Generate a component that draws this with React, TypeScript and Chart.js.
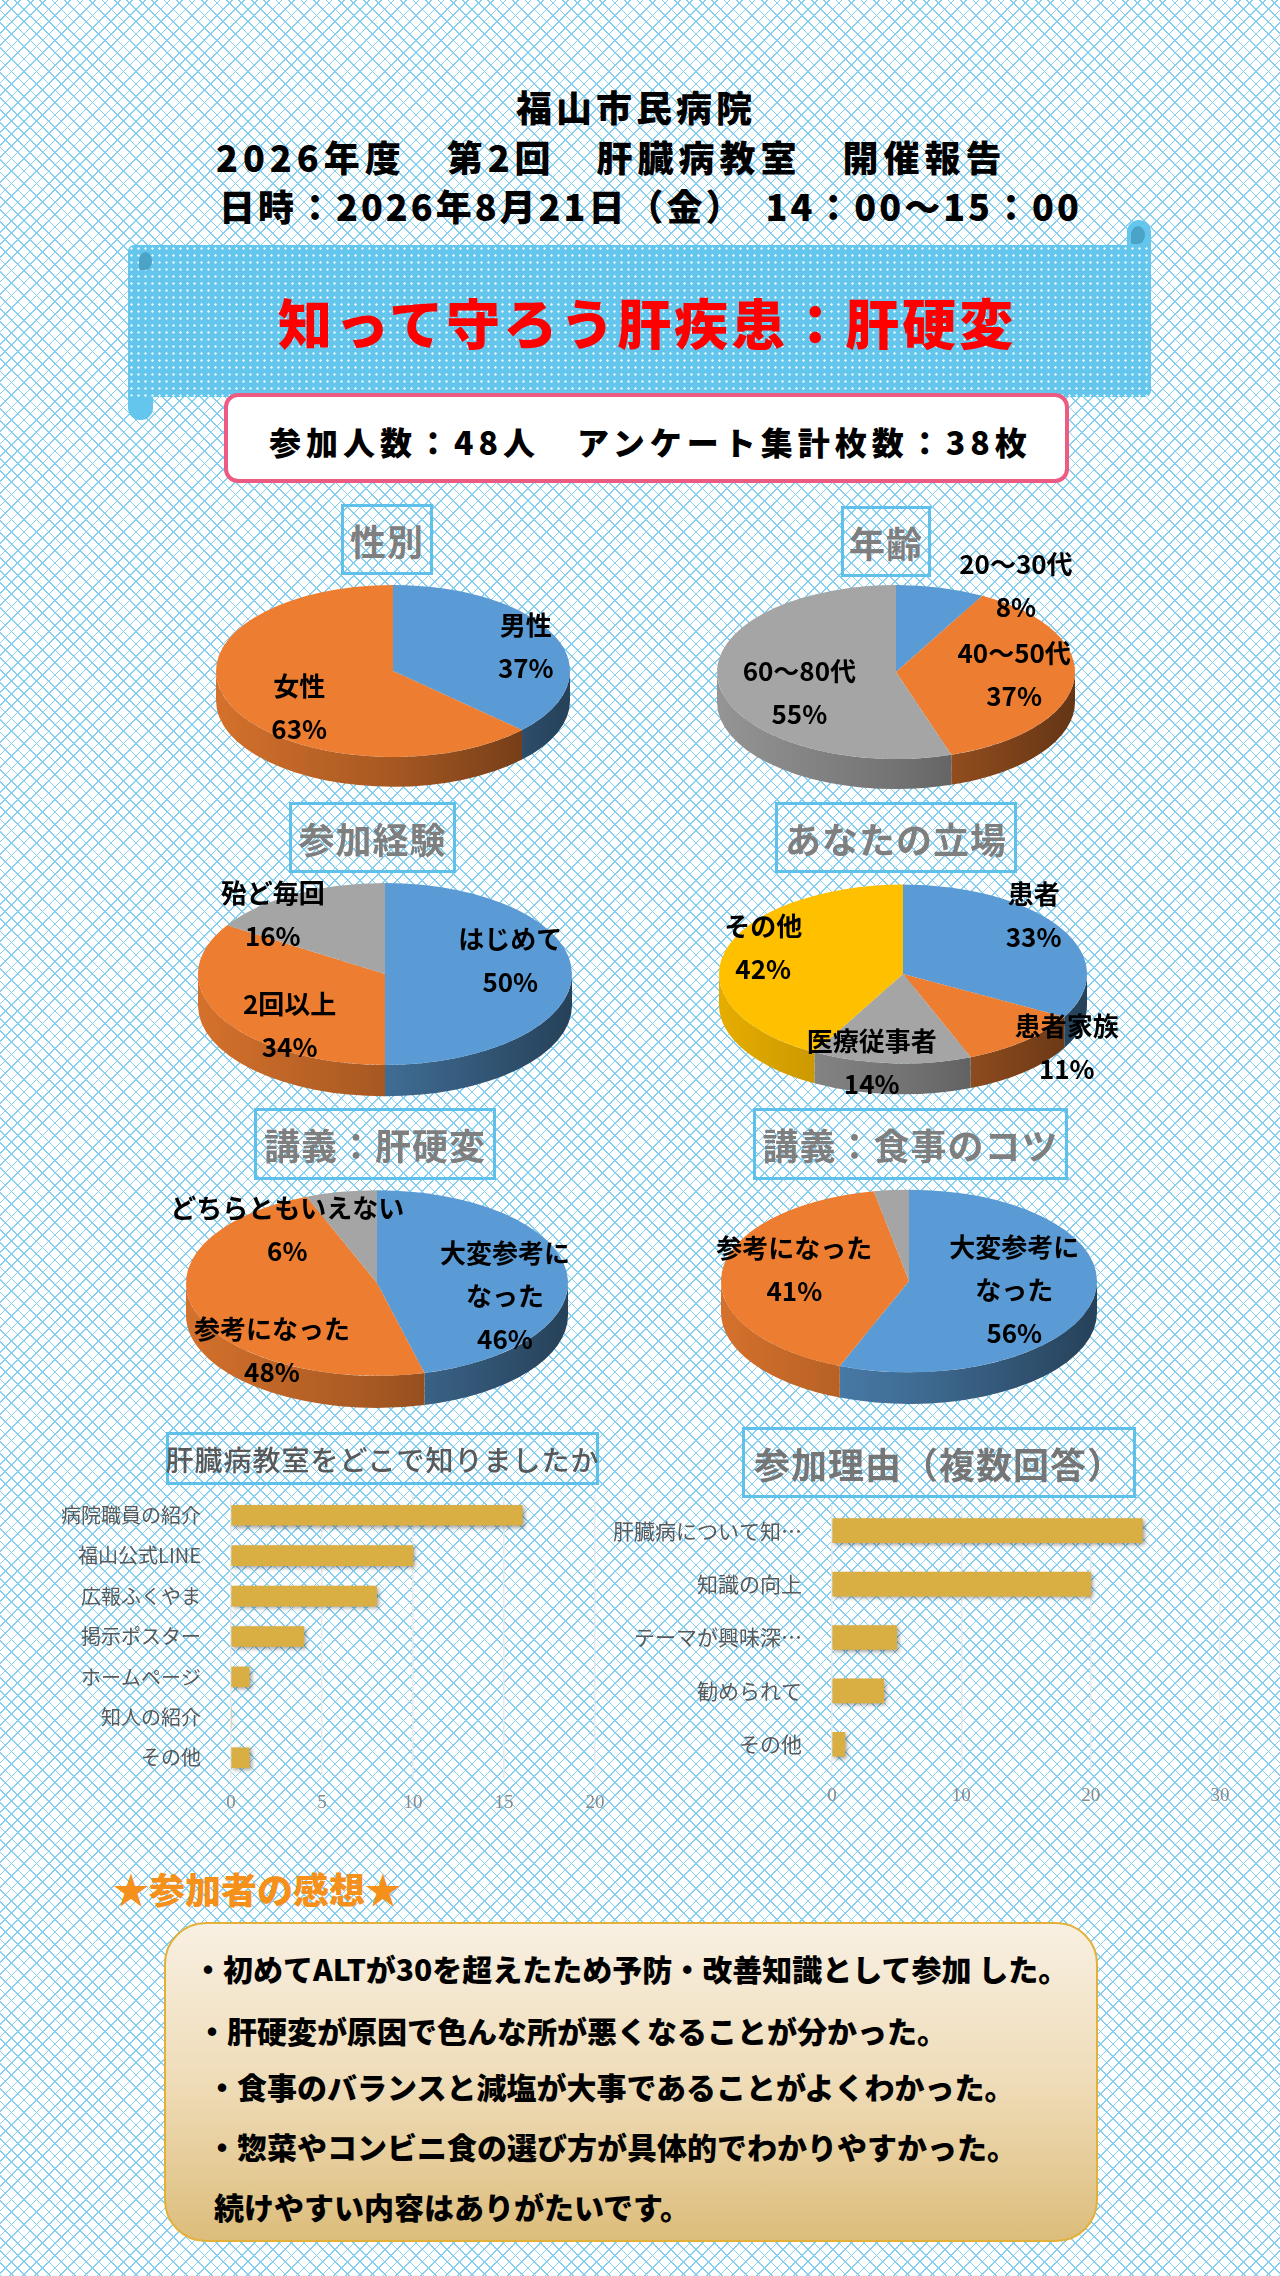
import React, { useEffect, useRef } from "react";
import Chart from "chart.js/auto";

Chart.defaults.font.family = "'Noto Sans CJK JP', 'Noto Sans', sans-serif";

// ---- data ----
const genderLabels = ["男性", "女性"];
const genderValues = [37, 63];

const ageLabels = ["20〜30代", "40〜50代", "60〜80代"];
const ageValues = [8, 37, 55];

const visitLabels = ["はじめて", "2回以上", "殆ど毎回"];
const visitValues = [50, 34, 16];

const roleLabels = ["患者", "患者家族", "医療従事者", "その他"];
const roleValues = [33, 11, 14, 42];

const lectureLabels = ["大変参考に\nなった", "参考になった", "どちらともいえない"];
const lecture1Values = [46, 48, 6];
const lecture2Values = [56, 41, 3];

const sourceLabels = ["病院職員の紹介", "福山公式LINE", "広報ふくやま", "掲示ポスター", "ホームページ", "知人の紹介", "その他"];
const sourceValues = [16, 10, 8, 4, 1, 0, 1];
const sourceTicks = [0, 5, 10, 15, 20];

const reasonLabels = ["肝臓病について知…", "知識の向上", "テーマが興味深…", "勧められて", "その他"];
const reasonValues = [24, 20, 5, 4, 1];
const reasonTicks = [0, 10, 20, 30];

// ---- styles ----
const BLUE = "#5b9bd5";
const ORANGE = "#ed7d31";
const GRAY = "#a5a5a5";
const YELLOW = "#ffc000";
const BAR = "#d9ae42";
const JP = "'Noto Sans CJK JP', sans-serif";

function shade(hex: string, f: number) {
  const n = parseInt(hex.slice(1), 16);
  const r = Math.round(((n >> 16) & 255) * f);
  const g = Math.round(((n >> 8) & 255) * f);
  const b = Math.round((n & 255) * f);
  return `rgb(${r},${g},${b})`;
}

// fake 3D: squash the pie and draw the side wall underneath
const pie3d = {
  id: "pie3d",
  beforeDatasetsDraw(chart: any, _args: any, opts: any) {
    const arcs = chart.getDatasetMeta(0).data;
    const { x, y, outerRadius } = arcs[0].getProps(["x", "y", "outerRadius"], true);
    const ry = outerRadius * opts.tilt;
    const depth = outerRadius * opts.depth;
    const ctx = chart.ctx;
    const colors = chart.data.datasets[0].backgroundColor;
    arcs.forEach((arc: any, i: number) => {
      const { startAngle, endAngle } = arc.getProps(["startAngle", "endAngle"], true);
      const s = Math.max(startAngle, 0);
      const e = Math.min(endAngle, Math.PI);
      if (e <= s) return;
      const g = ctx.createLinearGradient(x - outerRadius, 0, x + outerRadius, 0);
      g.addColorStop(0, shade(colors[i], 0.9));
      g.addColorStop(0.5, shade(colors[i], 0.7));
      g.addColorStop(1, shade(colors[i], 0.42));
      ctx.beginPath();
      ctx.ellipse(x, y, outerRadius, ry, 0, s, e, false);
      ctx.ellipse(x, y + depth, outerRadius, ry, 0, e, s, true);
      ctx.closePath();
      ctx.fillStyle = g;
      ctx.fill();
    });
    ctx.save();
    ctx.translate(x, y);
    ctx.scale(1, opts.tilt);
    ctx.translate(-x, -y);
  },
  afterDatasetsDraw(chart: any, _args: any, opts: any) {
    const ctx = chart.ctx;
    ctx.restore();
    const arcs = chart.getDatasetMeta(0).data;
    const { x, y, outerRadius } = arcs[0].getProps(["x", "y", "outerRadius"], true);
    const ry = outerRadius * opts.tilt;
    const names = chart.data.labels;
    const vals = chart.data.datasets[0].data;
    ctx.save();
    ctx.fillStyle = "#000";
    ctx.font = `bold 26px ${JP}`;
    ctx.textAlign = "center";
    ctx.textBaseline = "middle";
    opts.labelAt.forEach((p: number[] | null, i: number) => {
      if (!p) return;
      const lines = [...String(names[i]).split("\n"), `${vals[i]}%`];
      const lx = x + p[0] * outerRadius;
      const ly = y + p[1] * ry;
      lines.forEach((t, j) => ctx.fillText(t, lx, ly + (j - (lines.length - 1) / 2) * 43));
    });
    ctx.restore();
  },
};

const barShadow = {
  id: "barShadow",
  beforeDatasetsDraw(chart: any) {
    const c = chart.ctx;
    c.save();
    c.shadowColor = "rgba(0,0,0,0.35)";
    c.shadowBlur = 4;
    c.shadowOffsetX = 2;
    c.shadowOffsetY = 2;
  },
  afterDatasetsDraw(chart: any) {
    chart.ctx.restore();
  },
};

const PIE_W = 540;
const PIE_H = 330;
const PIE_CY = 145;

function Pie3D({
  labels,
  values,
  colors,
  labelAt,
  cx,
  cy,
  r,
}: {
  labels: string[];
  values: number[];
  colors: string[];
  labelAt: (number[] | null)[];
  cx: number;
  cy: number;
  r: number;
}) {
  const canvasRef = useRef<HTMLCanvasElement | null>(null);

  useEffect(() => {
    if (!canvasRef.current) return;
    const chart = new Chart(canvasRef.current, {
      type: "pie",
      data: {
        labels,
        datasets: [{ data: values, backgroundColor: colors, borderWidth: 0, radius: r, clip: false } as any],
      },
      options: {
        responsive: false,
        animation: false,
        events: [],
        layout: { padding: { bottom: PIE_H - 2 * PIE_CY } },
        plugins: {
          legend: { display: false },
          tooltip: { enabled: false },
          pie3d: { tilt: 0.486, depth: 0.168, labelAt },
        } as any,
      },
      plugins: [pie3d],
    });
    return () => chart.destroy();
  }, []);

  return (
    <canvas
      ref={canvasRef}
      width={PIE_W}
      height={PIE_H}
      style={{ position: "absolute", left: cx - PIE_W / 2, top: cy - PIE_CY, width: PIE_W, height: PIE_H }}
    />
  );
}

function HBar({
  labels,
  values,
  ticks,
  left,
  top,
  width,
  height,
  axisW,
  padTop,
  padRight,
  axisH,
  barH,
  labelSize,
}: {
  labels: string[];
  values: number[];
  ticks: number[];
  left: number;
  top: number;
  width: number;
  height: number;
  axisW: number;
  padTop: number;
  padRight: number;
  axisH: number;
  barH: number;
  labelSize: number;
}) {
  const canvasRef = useRef<HTMLCanvasElement | null>(null);

  useEffect(() => {
    if (!canvasRef.current) return;
    const chart = new Chart(canvasRef.current, {
      type: "bar",
      data: {
        labels,
        datasets: [{ data: values, backgroundColor: BAR, borderWidth: 0, barThickness: barH }],
      },
      options: {
        indexAxis: "y",
        responsive: false,
        animation: false,
        events: [],
        layout: { autoPadding: false, padding: { top: padTop, right: padRight, left: 0, bottom: 0 } },
        plugins: { legend: { display: false }, tooltip: { enabled: false } },
        scales: {
          x: {
            min: ticks[0],
            max: ticks[ticks.length - 1],
            ticks: {
              stepSize: ticks[1] - ticks[0],
              color: "#8a8a8a",
              padding: 14,
              font: { family: "'Liberation Serif', 'DejaVu Serif', serif", size: 19 },
            },
            grid: { color: "rgba(232,232,232,0.95)", lineWidth: 1.5, drawTicks: false },
            border: { display: false },
            afterFit: (s: any) => {
              s.height = axisH;
              s.paddingLeft = 0;
              s.paddingRight = 0;
            },
          },
          y: {
            ticks: { color: "#595959", padding: 22, font: { family: JP, size: labelSize } },
            grid: { display: false },
            border: { display: false },
            afterFit: (s: any) => {
              s.width = axisW;
              s.paddingTop = 0;
              s.paddingBottom = 0;
            },
          },
        },
      } as any,
      plugins: [barShadow],
    });
    return () => chart.destroy();
  }, []);

  return (
    <canvas
      ref={canvasRef}
      width={width}
      height={height}
      style={{ position: "absolute", left, top, width, height }}
    />
  );
}

function Txt({
  x,
  cy,
  size,
  color = "#000",
  weight = 900,
  spacing = 0,
  children,
}: {
  x: number;
  cy: number;
  size: number;
  color?: string;
  weight?: number;
  spacing?: number;
  children: React.ReactNode;
}) {
  return (
    <div
      style={{
        position: "absolute",
        left: x,
        top: cy - size * 0.55,
        fontFamily: JP,
        fontSize: size,
        fontWeight: weight,
        lineHeight: 1,
        letterSpacing: spacing,
        color,
        whiteSpace: "nowrap",
      }}
    >
      {children}
    </div>
  );
}

function TitleBox({
  x,
  y,
  w,
  h,
  size = 36,
  weight = 700,
  color = "#7f7f7f",
  children,
}: {
  x: number;
  y: number;
  w: number;
  h: number;
  size?: number;
  weight?: number;
  color?: string;
  children: React.ReactNode;
}) {
  return (
    <div
      style={{
        position: "absolute",
        left: x,
        top: y,
        width: w,
        height: h,
        boxSizing: "border-box",
        border: "3px solid #5fc1ea",
        display: "flex",
        alignItems: "center",
        justifyContent: "center",
        fontFamily: JP,
        fontSize: size,
        fontWeight: weight,
        color,
        whiteSpace: "nowrap",
        letterSpacing: 1,
      }}
    >
      {children}
    </div>
  );
}

const BANNER = "#64c6ec";
const dots = "radial-gradient(circle, rgba(235,250,255,0.95) 0.9px, transparent 1.5px)";

export default function App() {
  return (
    <div
      style={{
        position: "absolute",
        left: 0,
        top: 0,
        width: 1280,
        height: 2276,
        overflow: "hidden",
        backgroundColor: "#ffffff",
        backgroundImage:
          "repeating-linear-gradient(45deg, #86cff0 0 1.2px, transparent 1.2px 8.8px), repeating-linear-gradient(-45deg, #86cff0 0 1.2px, transparent 1.2px 8.8px)",
      }}
    >
      {/* header */}
      <Txt x={516} cy={108} size={36} spacing={4}>福山市民病院</Txt>
      <Txt x={216} cy={158} size={36} spacing={5}>2026年度　第2回　肝臓病教室　開催報告</Txt>
      <Txt x={219} cy={207} size={36} spacing={3}>日時：2026年8月21日（金）　14：00〜15：00</Txt>

      {/* banner */}
      <div style={{ position: "absolute", left: 1127, top: 220, width: 24, height: 40, borderRadius: "12px 12px 0 0", background: BANNER }} />
      <div style={{ position: "absolute", left: 1131, top: 226, width: 14, height: 18, borderRadius: "50% 50% 50% 10%", background: "#4ba3c8" }} />
      <div style={{ position: "absolute", left: 128, top: 380, width: 25, height: 40, borderRadius: "0 0 12px 12px", background: BANNER }} />
      <div
        style={{
          position: "absolute",
          left: 128,
          top: 245,
          width: 1023,
          height: 152,
          borderRadius: 6,
          backgroundColor: BANNER,
          backgroundImage: dots,
          backgroundSize: "7px 7px",
        }}
      />
      <div style={{ position: "absolute", left: 139, top: 252, width: 13, height: 18, borderRadius: "50% 50% 50% 10%", background: "#4ba3c8" }} />
      <Txt x={278} cy={325} size={54} color="#ff0000" spacing={3}>知って守ろう肝疾患：肝硬変</Txt>

      {/* count box */}
      <div
        style={{
          position: "absolute",
          left: 224,
          top: 393,
          width: 845,
          height: 90,
          boxSizing: "border-box",
          border: "4px solid #ec5c82",
          borderRadius: 14,
          background: "#ffffff",
        }}
      />
      <Txt x={269} cy={443} size={32} spacing={5}>参加人数：48人　アンケート集計枚数：38枚</Txt>

      {/* pies */}
      <TitleBox x={341} y={504} w={92} h={71}>性別</TitleBox>
      <TitleBox x={841} y={506} w={90} h={71}>年齢</TitleBox>
      <Pie3D labels={genderLabels} values={genderValues} colors={[BLUE, ORANGE]} labelAt={[[0.75, -0.28], [-0.53, 0.42]]} cx={393} cy={671} r={177} />
      <Pie3D
        labels={ageLabels}
        values={ageValues}
        colors={[BLUE, ORANGE, GRAY]}
        labelAt={[[0.67, -0.99], [0.66, 0.03], [-0.54, 0.24]]}
        cx={896}
        cy={672}
        r={179}
      />

      <TitleBox x={289} y={802} w={167} h={71}>参加経験</TitleBox>
      <TitleBox x={775} y={802} w={242} h={71}>あなたの立場</TitleBox>
      <Pie3D
        labels={visitLabels}
        values={visitValues}
        colors={[BLUE, ORANGE, GRAY]}
        labelAt={[[0.67, -0.15], [-0.51, 0.57], [-0.6, -0.65]]}
        cx={385}
        cy={974}
        r={187}
      />
      <Pie3D
        labels={roleLabels}
        values={roleValues}
        colors={[BLUE, ORANGE, GRAY, YELLOW]}
        labelAt={[[0.71, -0.65], [0.89, 0.82], [-0.17, 0.99], [-0.76, -0.29]]}
        cx={903}
        cy={974}
        r={184}
      />

      <TitleBox x={254} y={1108} w={242} h={72}>講義：肝硬変</TitleBox>
      <TitleBox x={753} y={1108} w={315} h={72}>講義：食事のコツ</TitleBox>
      <Pie3D
        labels={lectureLabels}
        values={lecture1Values}
        colors={[BLUE, ORANGE, GRAY]}
        labelAt={[[0.67, 0.14], [-0.55, 0.73], [-0.47, -0.57]]}
        cx={377}
        cy={1283}
        r={191}
      />
      <Pie3D
        labels={lectureLabels}
        values={lecture2Values}
        colors={[BLUE, ORANGE, GRAY]}
        labelAt={[[0.56, 0.1], [-0.61, -0.12], null]}
        cx={909}
        cy={1281}
        r={188}
      />

      {/* bars */}
      <TitleBox x={166} y={1432} w={433} h={53} size={28} weight={500} color="#595959">
        肝臓病教室をどこで知りましたか
      </TitleBox>
      <HBar
        labels={sourceLabels}
        values={sourceValues}
        ticks={sourceTicks}
        left={20}
        top={1490}
        width={600}
        height={330}
        axisW={211}
        padTop={5}
        padRight={25}
        axisH={42}
        barH={20}
        labelSize={20}
      />
      <TitleBox x={742} y={1427} w={394} h={71} size={36} weight={700} color="#767676">
        参加理由（複数回答）
      </TitleBox>
      <HBar
        labels={reasonLabels}
        values={reasonValues}
        ticks={reasonTicks}
        left={600}
        top={1500}
        width={650}
        height={320}
        axisW={232}
        padTop={4}
        padRight={30}
        axisH={49}
        barH={24}
        labelSize={21}
      />

      {/* comments */}
      <Txt x={113} cy={1890} size={36} color="#f5901a">★参加者の感想★</Txt>
      <div
        style={{
          position: "absolute",
          left: 164,
          top: 1922,
          width: 934,
          height: 320,
          boxSizing: "border-box",
          border: "2px solid #e3b03a",
          borderRadius: 42,
          background: "linear-gradient(180deg, #f8f0e2 0%, #efdcb8 50%, #dcbd7b 100%)",
        }}
      />
      <Txt x={193} cy={1969} size={30}>・初めてALTが30を超えたため予防・改善知識として参加 した。</Txt>
      <Txt x={197} cy={2031} size={30}>・肝硬変が原因で色んな所が悪くなることが分かった。</Txt>
      <Txt x={207} cy={2087} size={30}>・食事のバランスと減塩が大事であることがよくわかった。</Txt>
      <Txt x={207} cy={2147} size={30}>・惣菜やコンビニ食の選び方が具体的でわかりやすかった。</Txt>
      <Txt x={214} cy={2207} size={30}>続けやすい内容はありがたいです。</Txt>
    </div>
  );
}
